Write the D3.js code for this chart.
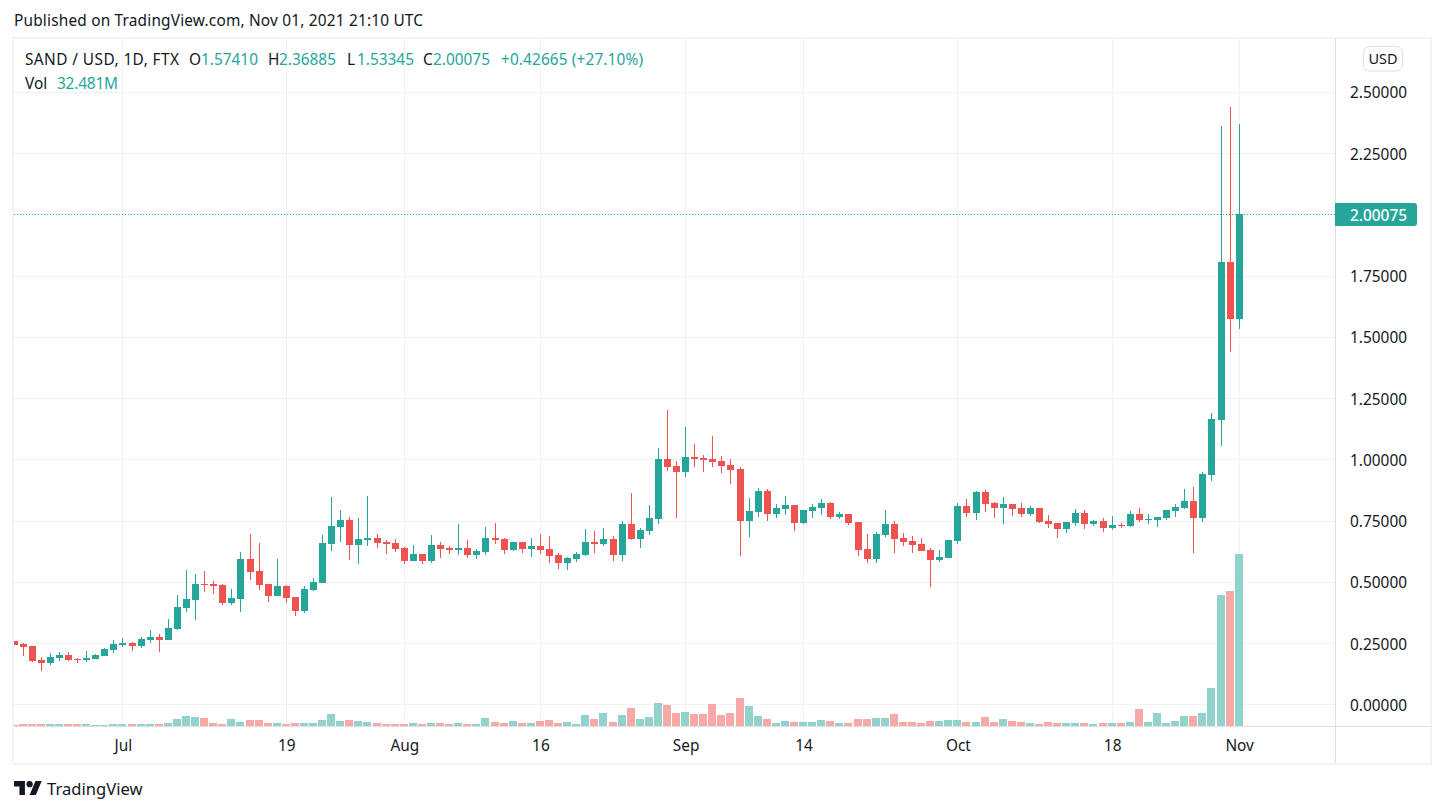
<!DOCTYPE html>
<html>
<head>
<meta charset="utf-8">
<script src="https://cdn.jsdelivr.net/npm/d3@7"></script>
<style>
  html, body { margin: 0; padding: 0; background: #fff; overflow: hidden; }
  text { font-family: "Noto Sans", "Open Sans", sans-serif; fill: #131722; }
</style>
</head>
<body>
<svg id="chart" width="1445" height="812"></svg>
<script>
// Daily candles, Jun 19 - Nov 1 2021
var opens = [.259,.247,.239,.182,.169,.190,.202,.186,.182,.186,
  .198,.222,.243,.251,.239,.263,.276,.263,.308,.394,
  .427,.492,.492,.488,.414,.431,.594,.545,.492,.443,
  .484,.439,.382,.467,.496,.655,.725,.753,.651,.671,
  .680,.663,.659,.639,.586,.614,.586,.651,.639,.631,
  .639,.610,.622,.680,.676,.631,.663,.635,.647,.635,
  .610,.578,.594,.610,.663,.655,.676,.610,.737,.676,
  .708,.757,1.002,.973,.949,1.010,1.006,1.002,.994,.978,
  .961,.749,.786,.871,.778,.798,.814,.741,.790,.802,
  .822,.765,.778,.745,.635,.594,.692,.737,.680,.667,
  .655,.631,.590,.598,.667,.810,.782,.867,.822,.802,
  .818,.802,.778,.802,.749,.741,.716,.741,.782,.737,
  .749,.720,.733,.729,.778,.753,.753,.761,.790,.802,
  .831,.761,.937,1.161,1.806,1.5741];
var highs = [.259,.251,.239,.194,.210,.214,.214,.190,.218,.206,
  .231,.263,.271,.255,.276,.304,.288,.349,.447,.549,
  .533,.545,.504,.492,.471,.622,.696,.659,.492,.594,
  .488,.439,.484,.516,.692,.847,.794,.765,.761,.851,
  .696,.671,.676,.643,.651,.614,.692,.663,.647,.737,
  .671,.635,.724,.741,.680,.663,.663,.680,.696,.688,
  .618,.602,.622,.716,.708,.720,.688,.749,.863,.720,
  .814,1.047,1.202,.994,1.133,1.063,1.018,1.096,1.014,1.002,
  .969,.843,.884,.880,.818,.851,.814,.794,.818,.839,
  .827,.786,.778,.745,.696,.704,.794,.749,.700,.688,
  .680,.639,.631,.671,.822,.839,.871,.876,.827,.847,
  .818,.822,.810,.802,.773,.741,.745,.798,.794,.753,
  .761,.769,.741,.790,.802,.778,.765,.794,.818,.880,
  .888,.949,1.190,2.361,2.439,2.36885];
var lows = [.243,.198,.174,.137,.161,.178,.178,.169,.174,.186,
  .198,.210,.235,.218,.231,.251,.214,.263,.304,.378,
  .345,.459,.451,.406,.406,.378,.508,.467,.418,.443,
  .414,.361,.373,.463,.496,.627,.663,.590,.573,.647,
  .639,.614,.622,.573,.586,.573,.578,.598,.614,.610,
  .598,.594,.610,.655,.614,.627,.618,.602,.614,.578,
  .553,.549,.582,.606,.618,.647,.586,.586,.671,.639,
  .692,.737,.953,.761,.929,.969,.949,.969,.945,.900,
  .606,.684,.765,.749,.761,.773,.708,.737,.761,.773,
  .757,.757,.733,.606,.578,.578,.684,.618,.647,.618,
  .627,.480,.582,.598,.655,.765,.753,.786,.761,.737,
  .769,.765,.769,.741,.720,.680,.700,.729,.716,.729,
  .704,.712,.720,.724,.745,.737,.724,.753,.765,.798,
  .618,.745,.912,1.055,1.439,1.53345];
var closes = [.243,.235,.178,.169,.194,.202,.182,.182,.190,.202,
  .227,.247,.251,.239,.267,.276,.263,.312,.398,.431,
  .492,.488,.484,.414,.435,.594,.541,.488,.443,.484,
  .435,.382,.471,.500,.659,.729,.753,.651,.676,.680,
  .659,.655,.635,.586,.614,.586,.651,.635,.631,.639,
  .610,.627,.680,.671,.631,.663,.635,.647,.631,.606,
  .578,.598,.614,.663,.655,.676,.610,.737,.676,.712,
  .761,1.002,.969,.949,1.010,1.002,.998,.990,.973,.957,
  .749,.790,.871,.778,.802,.814,.741,.794,.806,.822,
  .765,.778,.741,.631,.594,.696,.737,.676,.663,.651,
  .627,.590,.602,.671,.810,.782,.867,.818,.802,.818,
  .798,.778,.802,.745,.737,.716,.745,.782,.737,.749,
  .720,.733,.729,.778,.753,.757,.765,.794,.806,.831,
  .761,.941,1.165,1.806,1.574,2.00075];
// Volume in millions
var volumes = [.19,.38,.38,.38,.38,.38,.38,.38,.38,.19,.19,.38,.38,.38,.38,.38,.38,.57,1.32,1.89,
  1.7,1.51,.57,.38,1.32,.75,1.13,1.13,.57,.57,.38,.57,.57,.57,1.13,2.26,.94,1.13,.94,.75,
  .57,.38,.38,.38,.57,.38,.57,.57,.38,.57,.38,.38,
  1.51,.75,.57,.94,.57,.57,.94,1.13,.57,.75,.38,2.08,1.32,2.45,.75,2.08,3.4,1.32,1.7,4.34,
  3.96,2.45,2.64,2.26,2.26,4.15,2.08,2.45,5.28,3.77,1.89,1.32,.57,.94,.75,.75,.75,1.13,.94,.57,
  .57,1.32,1.32,1.51,1.51,2.26,.75,.75,.57,.94,.94,1.13,1.13,
  .75,.75,1.7,.75,1.32,.94,.75,.57,.38,.75,.57,.57,.57,.57,.38,.57,.57,.57,.75,3.2,
  .75,2.45,.57,.94,1.89,1.89,2.45,7.17,24.7,25.5,32.481];

var timeTickIndex = [12, 30, 43, 58, 74, 87, 104, 121, 135];
var timeTickLabels = ["Jul", "19", "Aug", "16", "Sep", "14", "Oct", "18", "Nov"];
var priceTicks = [0, 0.25, 0.5, 0.75, 1, 1.25, 1.5, 1.75, 2, 2.25, 2.5];
var lastPrice = 2.00075;

var UP = "#26a69a", DOWN = "#ef5350";
var UP_VOL = "#92d2cc", DOWN_VOL = "#f7a9a7";
var GRID = "#f1f2f4", OUTER = "#f0f0f5", FRAME = "#e0e0e3";
var FONT_SIZE = "15.4px";

var left = 14, right = 1335, top_ = 39, bottom = 726;

var x = d3.scaleLinear().domain([0, 135]).range([13.56, 1238.685]);
var y = d3.scaleLinear().domain([0, 2.5]).range([704.5, 92]);
var yVol = d3.scaleLinear().domain([0, 32.481]).range([726, 554]);

function px(i) { return Math.round(x(i)); }
function py(v) { return Math.round(y(v)); }
function gridY(v) { return Math.round(y(v) - 0.2); }

var svg = d3.select("#chart");

// Outer frame
svg.append("rect").attr("x", 13.25).attr("y", 38).attr("width", 1418).attr("height", 726)
  .attr("fill", "#fff").attr("stroke", OUTER).attr("stroke-width", 1.5);

svg.append("clipPath").attr("id", "pane").append("rect")
  .attr("x", left).attr("y", top_).attr("width", right - left).attr("height", bottom - top_);

// Grid
priceTicks.forEach(function(v) {
  svg.append("line").attr("x1", left).attr("x2", right)
    .attr("y1", gridY(v) + 0.5).attr("y2", gridY(v) + 0.5).attr("stroke", GRID);
});
timeTickIndex.forEach(function(i) {
  svg.append("line").attr("x1", px(i) + 0.5).attr("x2", px(i) + 0.5)
    .attr("y1", top_).attr("y2", bottom).attr("stroke", GRID);
});

var pane = svg.append("g").attr("clip-path", "url(#pane)").attr("shape-rendering", "crispEdges");

// Volume bars
pane.selectAll(".vol").data(volumes).enter().append("rect")
  .attr("class", "vol")
  .attr("x", function(d, i) { return px(i) - 4; })
  .attr("width", 8)
  .attr("y", function(d) { return Math.round(yVol(d)); })
  .attr("height", function(d) { return 726 - Math.round(yVol(d)); })
  .attr("fill", function(d, i) { return closes[i] >= opens[i] ? UP_VOL : DOWN_VOL; });

// Wicks
pane.selectAll(".wick").data(highs).enter().append("rect")
  .attr("class", "wick")
  .attr("x", function(d, i) { return px(i); })
  .attr("width", 1)
  .attr("y", function(d) { return py(d); })
  .attr("height", function(d, i) { return py(lows[i]) - py(d); })
  .attr("fill", function(d, i) { return closes[i] >= opens[i] ? UP : DOWN; });

// Bodies
pane.selectAll(".body").data(opens).enter().append("rect")
  .attr("class", "body")
  .attr("x", function(d, i) { return px(i) - 3; })
  .attr("width", 7)
  .attr("y", function(d, i) { return py(Math.max(d, closes[i])); })
  .attr("height", function(d, i) { return Math.max(1, py(Math.min(d, closes[i])) - py(Math.max(d, closes[i]))); })
  .attr("fill", function(d, i) { return closes[i] >= d ? UP : DOWN; });

// Last price line
svg.append("line").attr("x1", left).attr("x2", right)
  .attr("y1", py(lastPrice) + 0.5).attr("y2", py(lastPrice) + 0.5)
  .attr("stroke", UP).attr("stroke-dasharray", "1 2");

// Axis borders
svg.append("line").attr("x1", left).attr("x2", 1431).attr("y1", bottom + 0.5).attr("y2", bottom + 0.5).attr("stroke", FRAME);
svg.append("line").attr("x1", right + 0.5).attr("x2", right + 0.5).attr("y1", top_).attr("y2", 763).attr("stroke", FRAME);

// Price axis
var priceAxis = svg.append("g").attr("transform", "translate(1407,1)")
  .call(d3.axisRight(y).tickValues(priceTicks).tickFormat(d3.format(".5f")).tickSize(0));
priceAxis.select(".domain").remove();
priceAxis.selectAll("text").attr("x", 0).attr("text-anchor", "end")
  .style("font-family", '"Noto Sans"').style("font-size", FONT_SIZE).attr("dy", "0.32em");
priceAxis.selectAll(".tick").filter(function(d) { return d === 2; }).remove();

// Time axis
var timeAxis = svg.append("g").attr("transform", "translate(0.5,751)")
  .call(d3.axisBottom(x).tickValues(timeTickIndex)
    .tickFormat(function(d) { return timeTickLabels[timeTickIndex.indexOf(d)]; }).tickSize(0));
timeAxis.select(".domain").remove();
timeAxis.selectAll("text").attr("y", 0).attr("dy", 0)
  .style("font-family", '"Noto Sans"').style("font-size", FONT_SIZE);

// Last price label
svg.append("path")
  .attr("d", "M1335 203H1414a3 3 0 0 1 3 3V223a3 3 0 0 1 -3 3H1335Z")
  .attr("fill", UP);
svg.append("text").attr("x", 1407).attr("y", py(lastPrice) + 1).attr("dy", "0.36em")
  .attr("text-anchor", "end").style("fill", "#fff").style("font-size", FONT_SIZE)
  .style("font-weight", 500).text(d3.format(".5f")(lastPrice));

// USD button
svg.append("rect").attr("x", 1363.5).attr("y", 46.5).attr("width", 39).attr("height", 24.5).attr("rx", 6)
  .attr("fill", "#fff").attr("stroke", FRAME);
svg.append("text").attr("x", 1383).attr("y", 64).attr("text-anchor", "middle").style("font-size", "14.5px").text("USD");

// Header and legend
function label(txt, xPos, yPos, color, width) {
  var t = svg.append("text").attr("x", xPos).attr("y", yPos).style("font-size", FONT_SIZE)
    .style("fill", color || "#131722").text(txt);
  if (width) t.attr("textLength", width).attr("lengthAdjust", "spacing");
}
label("Published on TradingView.com, Nov 01, 2021 21:10 UTC", 14, 26, null, 409);
label("SAND / USD, 1D, FTX", 25, 65, null, 154);
label("O", 189, 65); label("1.57410", 201, 65, UP);
label("H", 268, 65); label("2.36885", 279, 65, UP);
label("L", 347, 65); label("1.53345", 357, 65, UP);
label("C", 423, 65); label("2.00075", 433, 65, UP);
label("+0.42665 (+27.10%)", 501, 65, UP, 142);
label("Vol", 25, 89); label("32.481M", 57, 89, UP, 61);

// TradingView logo
var logo = svg.append("g").attr("transform", "translate(14,777.9) scale(0.78)").attr("fill", "#131722");
logo.append("path").attr("d", "M14 22H7V11H0V4h14v18zM28 22h-8l7.5-18h8L28 22z");
logo.append("circle").attr("cx", 20).attr("cy", 8).attr("r", 4);
svg.append("text").attr("x", 47).attr("y", 795).style("font-size", "16.6px").style("fill", "#131722").text("TradingView");
</script>
</body>
</html>
